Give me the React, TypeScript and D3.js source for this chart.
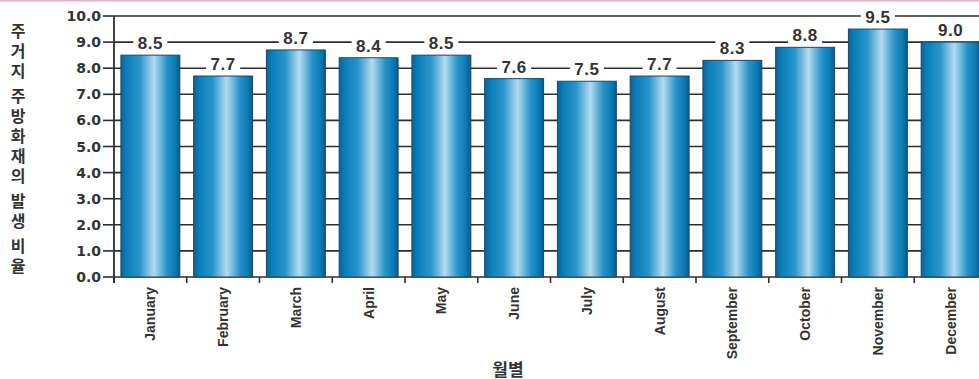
import React from "react";
import * as d3 from "d3";

const months = ["January","February","March","April","May","June","July","August","September","October","November","December"];
const values = [8.5, 7.7, 8.7, 8.4, 8.5, 7.6, 7.5, 7.7, 8.3, 8.8, 9.5, 9.0];
const yTicks = [0,1,2,3,4,5,6,7,8,9,10];
const yTitle = "주거지 주방화재의 발생 비율";
const xTitle = "월별";

const W = 979, H = 379;
const left = 114, right = 987, top = 16, bottom = 277;

export default function App() {
  const x = d3.scaleBand<string>().domain(months).range([left, right]).paddingInner(0.19).paddingOuter(0.095);
  const y = d3.scaleLinear().domain([0, 10]).range([bottom, top]);
  const bw = x.bandwidth();
  const gap = (x.step() - bw) / 2;

  const chars = Array.from(yTitle);
  let cy = 31;
  const titlePos: { c: string; y: number }[] = [];
  chars.forEach((c) => {
    if (c === " ") { cy += 5; return; }
    titlePos.push({ c, y: cy });
    cy += 20;
  });

  return (
    <svg width={W} height={H} style={{ position: "absolute", left: 0, top: 0, background: "#fff" }}>
      <defs>
        <linearGradient id="barGrad" x1="0" x2="1" y1="0" y2="0">
          <stop offset="0%" stopColor="#0a6398" />
          <stop offset="10%" stopColor="#0a7fba" />
          <stop offset="32%" stopColor="#2a94ca" />
          <stop offset="56%" stopColor="#b3dbef" />
          <stop offset="78%" stopColor="#2892c8" />
          <stop offset="92%" stopColor="#0a7ab4" />
          <stop offset="100%" stopColor="#095a8b" />
        </linearGradient>
      </defs>
      <line x1={0} x2={W} y1={0.75} y2={0.75} stroke="#e6b2c6" strokeWidth={1.5} />
      {yTicks.map((t) => (
        <line key={"g" + t} x1={left} x2={W} y1={y(t)} y2={y(t)} stroke="#2e2e2e" strokeWidth={1.6} />
      ))}
      {months.map((m, i) => (
        <rect key={m} x={x(m)} y={y(values[i])} width={bw} height={bottom - y(values[i])}
          fill="url(#barGrad)" stroke="#1f4660" strokeWidth={1} />
      ))}
      <line x1={left} x2={left} y1={top} y2={bottom + 6} stroke="#2e2e2e" strokeWidth={1.8} />
      {yTicks.map((t) => (
        <g key={"t" + t}>
          <line x1={left - 11} x2={left} y1={y(t)} y2={y(t)} stroke="#2e2e2e" strokeWidth={1.6} />
          <text x={101} y={y(t)} dy="0.36em" textAnchor="end" fontFamily="DejaVu Sans" fontWeight="bold"
            fontSize={14} fill="#333">{t.toFixed(1)}</text>
        </g>
      ))}
      {months.map((m) => (
        <line key={"xt" + m} x1={(x(m) as number) - gap} x2={(x(m) as number) - gap} y1={bottom} y2={bottom + 6}
          stroke="#2e2e2e" strokeWidth={1.6} />
      ))}
      {months.map((m) => {
        const cx = (x(m) as number) + bw / 2;
        return (
          <text key={"xl" + m} transform={`translate(${cx + 5},287) rotate(-90)`} textAnchor="end"
            fontFamily="Liberation Sans, Arial, sans-serif" fontWeight="bold" fontSize={14} fill="#333">{m}</text>
        );
      })}
      {months.map((m, i) => {
        const cx = (x(m) as number) + bw / 2;
        const ly = y(values[i]) - 12;
        return (
          <g key={"v" + m}>
            <rect x={cx - 17} y={ly - 9} width={34} height={17} fill="#fff" />
            <text x={cx} y={ly} dy="0.36em" textAnchor="middle" fontFamily="Liberation Sans, Arial, sans-serif"
              fontWeight="bold" fontSize={17} letterSpacing={0.5} fill="#333">{values[i].toFixed(1)}</text>
          </g>
        );
      })}
      <text textAnchor="middle" fontFamily="Noto Sans CJK KR" fontWeight="bold" fontSize={16} fill="#333">
        {titlePos.map((p, i) => (
          <tspan key={"yt" + i} x={18} y={p.y + 6}>{p.c}</tspan>
        ))}
      </text>
      <text x={508} y={376} textAnchor="middle" fontFamily="Noto Sans CJK KR" fontWeight="bold" fontSize={17} fill="#333">{xTitle}</text>
    </svg>
  );
}
